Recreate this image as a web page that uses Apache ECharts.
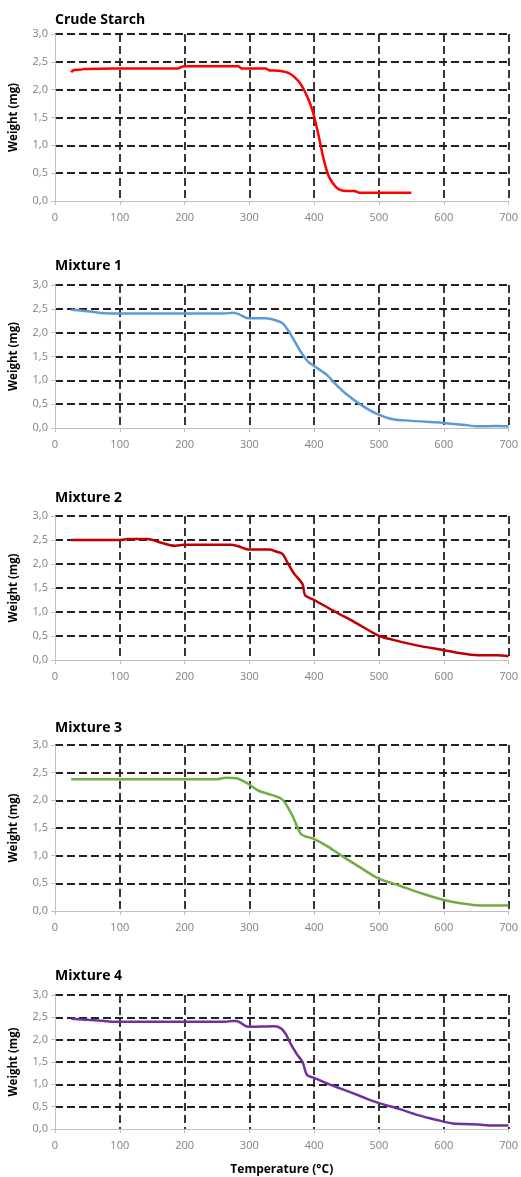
<!DOCTYPE html>
<html>
<head>
<meta charset="utf-8">
<script src="https://cdn.jsdelivr.net/npm/echarts@6/dist/echarts.min.js"></script>
<style>
  html, body { margin: 0; padding: 0; background: #fff; }
  #main { width: 521px; height: 1177px; }
</style>
</head>
<body>
<div id="main"></div>
<script>
// TGA curves, weight (mg) vs temperature (°C)
var titles = ["Crude Starch", "Mixture 1", "Mixture 2", "Mixture 3", "Mixture 4"];
var colors = ["#ff0000", "#5b9bd5", "#c00000", "#70ad47", "#7030a0"];
var xTicks = [0, 100, 200, 300, 400, 500, 600, 700];
var yTicks = [0, 0.5, 1, 1.5, 2, 2.5, 3];

var crudeStarch = [[25,2.31],[28,2.35],[40,2.36],[45,2.37],[90,2.38],[190,2.38],[195,2.41],[200,2.42],
  [283,2.42],[288,2.38],[325,2.38],[330,2.35],[345,2.34],[355,2.32],[362,2.29],[370,2.22],[378,2.12],
  [385,1.98],[392,1.8],[398,1.6],[402,1.42],[406,1.22],[410,1.0],[414,0.78],[418,0.6],[422,0.46],
  [427,0.35],[433,0.26],[440,0.2],[450,0.18],[462,0.18],[470,0.15],[550,0.15]];

var mixture1 = [[25,2.48],[50,2.45],[87,2.4],[260,2.4],[275,2.42],[285,2.38],[298,2.3],[326,2.3],
  [340,2.26],[351,2.2],[362,2.0],[377,1.65],[390,1.4],[400,1.3],[420,1.11],[433,0.92],[448,0.73],
  [473,0.48],[496,0.3],[519,0.19],[540,0.16],[580,0.125],[590,0.12],[603,0.1],[630,0.07],
  [652,0.035],[682,0.04],[700,0.03]];

var mixture2 = [[25,2.5],[102,2.5],[112,2.52],[143,2.52],[160,2.46],[178,2.39],[186,2.38],[199,2.4],
  [270,2.4],[283,2.37],[298,2.3],[331,2.3],[341,2.26],[351,2.21],[358,2.05],[369,1.8],[382,1.58],
  [386,1.35],[400,1.25],[433,1.0],[461,0.8],[499,0.51],[522,0.42],[560,0.3],[598,0.21],[621,0.15],
  [652,0.1],[682,0.1],[700,0.08]];

var mixture3 = [[25,2.38],[249,2.38],[264,2.41],[280,2.4],[298,2.3],[313,2.18],[328,2.12],[346,2.05],
  [353,1.99],[366,1.73],[379,1.4],[386,1.35],[400,1.3],[422,1.16],[442,1.0],[468,0.81],[499,0.59],
  [529,0.47],[565,0.32],[600,0.2],[626,0.14],[656,0.1],[700,0.1]];

var mixture4 = [[25,2.47],[76,2.42],[86,2.4],[263,2.4],[273,2.42],[280,2.42],[298,2.29],[339,2.3],
  [349,2.25],[356,2.13],[364,1.9],[374,1.66],[382,1.5],[389,1.21],[399,1.15],[417,1.04],[440,0.91],
  [469,0.75],[498,0.59],[531,0.45],[560,0.31],[590,0.2],[612,0.13],[632,0.11],[653,0.1],[675,0.08],
  [700,0.08]];

var seriesData = [crudeStarch, mixture1, mixture2, mixture3, mixture4];

// plot boxes in px: [top, height, width]
var boxes = [[34, 167, 459], [285, 143, 459], [516, 144, 459], [745, 166, 459], [995, 140, 462]];
var titleTops = [13, 259, 491, 721, 969];

var gridDash = { color: "#222", width: 1.8, type: [8, 4] };
var axisGray = { color: "#bfbfbf", width: 1 };
var labelFont = { color: "#808080", fontSize: 11, fontFamily: "Open Sans" };

var myChart = echarts.init(document.getElementById("main"));
var option = { animation: false, title: [], grid: [], xAxis: [], yAxis: [], series: [] };

for (var i = 0; i < 5; i++) {
  option.title.push({
    text: titles[i], left: 55, top: titleTops[i], padding: 0,
    textStyle: { fontSize: 14, fontWeight: "bold", color: "#000", fontFamily: "Open Sans" }
  });
  option.grid.push({ left: 53, top: boxes[i][0], height: boxes[i][1], width: boxes[i][2] });
  option.xAxis.push({
    type: "value", gridIndex: i, min: xTicks[0], max: xTicks[xTicks.length - 1], interval: 100,
    axisLine: { show: true, lineStyle: axisGray },
    axisTick: { show: true, length: 4, lineStyle: axisGray },
    axisLabel: Object.assign({ margin: 11 }, labelFont),
    splitLine: { show: true, showMinLine: false, lineStyle: gridDash },
    name: i === 4 ? "Temperature (°C)" : "",
    nameLocation: "middle", nameGap: 35,
    nameTextStyle: { fontSize: 12, fontWeight: "bold", color: "#000", fontFamily: "Open Sans" }
  });
  option.yAxis.push({
    type: "value", gridIndex: i, min: yTicks[0], max: yTicks[yTicks.length - 1], interval: 0.5,
    axisLine: { show: true, lineStyle: axisGray },
    axisTick: { show: true, length: 4, lineStyle: axisGray },
    axisLabel: Object.assign({
      margin: 7,
      formatter: function (v) { return v.toFixed(1).replace(".", ","); }
    }, labelFont),
    splitLine: { show: true, showMinLine: false, lineStyle: gridDash },
    name: "Weight (mg)", nameLocation: "middle", nameGap: 35,
    nameTextStyle: { fontSize: 11.5, fontWeight: "bold", color: "#000", fontFamily: "Open Sans" }
  });
  option.series.push({
    type: "line", xAxisIndex: i, yAxisIndex: i, data: seriesData[i],
    showSymbol: false, smooth: 0.3,
    lineStyle: { color: colors[i], width: 2.5 }, z: 5
  });
}

option && myChart.setOption(option);
window.onresize = myChart.resize;
</script>
</body>
</html>
